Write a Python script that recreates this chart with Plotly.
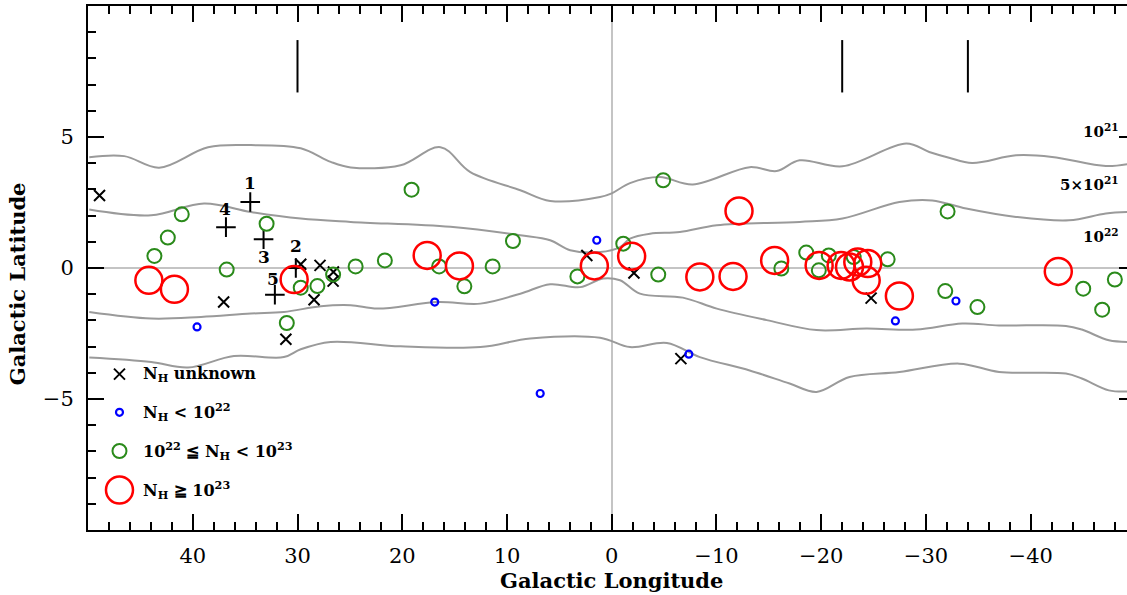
import plotly.graph_objects as go

# ---------------- data ----------------
unknown_lon = [48.9, 37.05, 29.69, 27.85, 26.57, 26.6, 28.42, 31.11, 2.38, -2.12, -6.6, -24.76]
unknown_lat = [2.77, -1.30, 0.14, 0.10, -0.15, -0.50, -1.21, -2.72, 0.48, -0.19, -3.46, -1.15]

plus_lon = [34.51, 30.16, 33.24, 36.83, 32.16]
plus_lat = [2.52, 0.0, 1.10, 1.56, -1.02]
plus_labels = ["1", "2", "3", "4", "5"]
plus_label_dy = [19, 22, -18, 18, 16]   # pixel offsets of the number labels
plus_label_dx = [0, 0, 0, -1, -2]

blue_lon = [39.59, 16.9, 6.83, 1.43, -7.36, -27.08, -32.86]
blue_lat = [-2.25, -1.30, -4.79, 1.06, -3.29, -2.02, -1.26]

green_lon = [41.05, 42.38, 43.66, 36.76, 32.95, 31.02, 29.69, 28.1, 26.6, 24.45,
             21.66, 19.11, 16.48, 14.07, 11.37, 9.43, 3.28, -1.1, -4.44, -4.91,
             -16.19, -18.57, -19.77, -20.72, -23.1, -26.34, -31.84, -32.06, -34.91,
             -45.01, -46.82, -48.03]
green_lat = [2.05, 1.16, 0.46, -0.06, 1.69, -2.10, -0.75, -0.69, -0.25, 0.06,
             0.29, 2.99, 0.06, -0.70, 0.06, 1.03, -0.32, 0.93, -0.25, 3.35,
             -0.02, 0.59, -0.09, 0.48, 0.42, 0.33, -0.88, 2.16, -1.49,
             -0.79, -1.59, -0.44]

red_lon = [44.19, 41.75, 30.32, 17.62, 14.54, 1.66, -1.9, -12.15, -8.41, -11.58,
           -15.55, -19.8, -21.9, -22.7, -23.49, -24.44, -24.29, -27.46, -42.63]
red_lat = [-0.47, -0.81, -0.44, 0.48, 0.08, 0.08, 0.45, 2.18, -0.34, -0.32,
           0.29, 0.10, 0.10, 0.04, 0.23, 0.17, -0.47, -1.07, -0.13]

# column-density contours
c1_lon = [49.88, 46.54, 43.21, 38.54, 34.45, 29.69, 26.83, 24.92, 20.16, 16.35, 13.50, 8.73,
          5.88, 1.11, 0.0, -1.74, -4.59, -7.74, -13.17, -15.74, -17.93, -22.03, -28.12,
          -30.31, -32.2, -34.41, -38.6, -42.03, -47.17, -49.5]
c1_lat = [4.23, 4.27, 3.83, 4.61, 4.69, 4.57, 4.05, 3.84, 3.92, 4.61, 3.66, 2.97,
          2.56, 2.71, 2.85, 3.24, 3.47, 3.19, 3.85, 3.70, 4.11, 3.88, 4.75,
          4.43, 4.21, 4.01, 4.30, 4.24, 3.89, 3.98]

c2_lon = [49.88, 43.97, 38.92, 34.45, 29.69, 24.92, 15.4, 8.73, 5.88, 3.97, 1.11, -0.79,
          -1.74, -3.65, -6.5, -10.03, -17.93, -22.03, -27.46, -30.6, -33.84, -38.6,
          -43.65, -47.17, -49.5]
c2_lat = [2.23, 2.01, 2.46, 2.14, 1.89, 1.76, 1.57, 1.25, 1.06, 0.68, 0.61, 0.80,
          1.12, 1.31, 1.37, 1.63, 1.76, 1.89, 2.52, 2.58, 2.27, 1.95,
          1.82, 2.08, 2.14]

c3_lon = [49.88, 43.97, 39.21, 34.45, 31.3, 27.78, 24.92, 22.35, 16.64, 12.54, 8.73, 5.88,
          3.02, 0.83, -0.79, -2.69, -6.79, -10.03, -14.79, -19.55, -24.31, -29.08,
          -33.46, -36.98, -43.36, -44.88, -47.46, -49.5]
c3_lat = [-1.68, -1.93, -1.87, -1.74, -1.68, -1.46, -1.42, -1.55, -1.30, -1.36, -0.98, -0.62,
          -0.73, -0.40, -0.47, -0.98, -1.13, -1.55, -1.99, -2.37, -2.31, -2.35,
          -2.12, -2.19, -2.21, -2.35, -2.76, -2.82]

c4_lon = [49.88, 43.97, 40.45, 36.07, 31.3, 29.69, 26.83, 20.16, 12.54, 7.78, 1.11, -1.74,
          -5.27, -8.41, -13.17, -16.98, -19.55, -22.7, -27.46, -33.17, -36.98, -43.36,
          -44.88, -47.46, -49.5]
c4_lat = [-3.42, -3.59, -3.80, -3.36, -3.40, -3.10, -2.82, -2.99, -3.02, -2.69, -2.66, -3.02,
          -2.86, -3.40, -3.91, -4.41, -4.73, -4.16, -3.97, -3.65, -3.97, -4.03,
          -4.22, -4.67, -4.71]

contour_labels = ["10<sup>21</sup>", "5×10<sup>21</sup>", "10<sup>22</sup>"]
contour_label_lat = [5.22, 3.20, 1.21]

seg_lon = [30, -22, -34]
seg_lat_lo = 6.7
seg_lat_hi = 8.7

x_major = [40, 30, 20, 10, 0, -10, -20, -30, -40]
x_minor = [v for v in range(-48, 50, 2) if v % 10 != 0]
y_major = [-5, 0, 5]
y_minor = [v for v in range(-9, 10) if v % 5 != 0]

legend_labels = ["N<sub>H</sub> unknown",
                 "N<sub>H</sub> < 10<sup>22</sup>",
                 "10<sup>22</sup> ≦ N<sub>H</sub> < 10<sup>23</sup>",
                 "N<sub>H</sub> ≧ 10<sup>23</sup>"]

# ---------------- styles ----------------
FONT = "DejaVu Serif"
GRAY = "#9a9a9a"
GREEN = "#2a8a1a"
RED = "#ff0000"
BLUE = "#0000ff"

fig = go.Figure()

for lo, la in [(c1_lon, c1_lat), (c2_lon, c2_lat), (c3_lon, c3_lat), (c4_lon, c4_lat)]:
    fig.add_trace(go.Scatter(x=lo, y=la, mode="lines",
                             line=dict(color=GRAY, width=2, shape="spline", smoothing=1.0),
                             hoverinfo="skip", showlegend=False))

# top marker segments (on y2 which mirrors y)
sx, sy = [], []
for v in seg_lon:
    sx += [v, v, None]
    sy += [seg_lat_lo, seg_lat_hi, None]
fig.add_trace(go.Scatter(x=sx, y=sy, mode="lines", yaxis="y2",
                         line=dict(color="black", width=2),
                         hoverinfo="skip", showlegend=False))

fig.add_trace(go.Scatter(x=unknown_lon, y=unknown_lat, mode="markers",
                         marker=dict(symbol="x-thin-open", size=11, color="black",
                                     line=dict(color="black", width=2)),
                         showlegend=False))
fig.add_trace(go.Scatter(x=plus_lon, y=plus_lat, mode="markers",
                         marker=dict(symbol="cross-thin-open", size=14, color="black",
                                     line=dict(color="black", width=2)),
                         showlegend=False))
fig.add_trace(go.Scatter(x=blue_lon, y=blue_lat, mode="markers",
                         marker=dict(symbol="circle-open", size=7, color=BLUE,
                                     line=dict(color=BLUE, width=2.2)),
                         showlegend=False))
fig.add_trace(go.Scatter(x=green_lon, y=green_lat, mode="markers",
                         marker=dict(symbol="circle-open", size=14, color=GREEN,
                                     line=dict(color=GREEN, width=2)),
                         showlegend=False))
fig.add_trace(go.Scatter(x=red_lon, y=red_lat, mode="markers",
                         marker=dict(symbol="circle-open", size=27, color=RED,
                                     line=dict(color=RED, width=2.5)),
                         showlegend=False))

# legend keys in an overlay frame (0..1)
leg_x = 0.0303
leg_y = [0.2975, 0.2245, 0.1507, 0.0763]
leg_sym = ["x-thin-open", "circle-open", "circle-open", "circle-open"]
leg_size = [11, 7, 14, 27]
leg_col = ["black", BLUE, GREEN, RED]
leg_w = [2, 2.2, 2, 2.5]
for i in range(4):
    fig.add_trace(go.Scatter(x=[leg_x], y=[leg_y[i]], mode="markers", xaxis="x2", yaxis="y3",
                             marker=dict(symbol=leg_sym[i], size=leg_size[i], color=leg_col[i],
                                         line=dict(color=leg_col[i], width=leg_w[i])),
                             hoverinfo="skip", showlegend=False))

annotations = []
for i in range(4):
    annotations.append(dict(text="<b>" + legend_labels[i] + "</b>", xref="paper", yref="paper",
                            x=0.0514, y=leg_y[i], xanchor="left", yanchor="middle",
                            showarrow=False, font=dict(family=FONT, size=16, color="black")))
for i, t in enumerate(plus_labels):
    annotations.append(dict(text="<b>" + t + "</b>", x=plus_lon[i], y=plus_lat[i], xref="x", yref="y",
                            showarrow=False, xshift=plus_label_dx[i], yshift=plus_label_dy[i],
                            font=dict(family=FONT, size=17, color="black")))
for t, la in zip(contour_labels, contour_label_lat):
    annotations.append(dict(text="<b>" + t + "</b>", x=-48.62, y=la, xref="x", yref="y", xanchor="right",
                            yanchor="middle", showarrow=False,
                            font=dict(family=FONT, size=15, color="black")))
annotations.append(dict(text="<b>Galactic Longitude</b>", xref="x", yref="paper", x=0, y=-0.0973,
                        xanchor="center", yanchor="middle", showarrow=False,
                        font=dict(family=FONT, size=21, color="black")))
annotations.append(dict(text="<b>Galactic Latitude</b>", xref="paper", yref="paper", x=-0.0683, y=0.469,
                        xanchor="center", yanchor="middle", textangle=-90, showarrow=False,
                        font=dict(family=FONT, size=21, color="black")))

fig.update_layout(
    width=1127, height=595,
    margin=dict(l=88, r=0, t=6, b=65),
    paper_bgcolor="white", plot_bgcolor="white",
    showlegend=False,
    annotations=annotations,
    xaxis=dict(range=[50, -49.19], tickmode="array", tickvals=x_major,
               ticks="inside", ticklen=16, tickwidth=2, tickcolor="black",
               showline=True, linewidth=2, linecolor="black", mirror="ticks",
               showgrid=False, zeroline=True, zerolinecolor="#c4c4c4", zerolinewidth=2,
               tickfont=dict(family=FONT, size=21, color="black"), ticklabelstandoff=6,
               minor=dict(tickmode="array", tickvals=x_minor, ticks="inside", ticklen=8,
                          tickwidth=2, tickcolor="black", showgrid=False)),
    yaxis=dict(range=[-10, 10], tickmode="array", tickvals=y_major,
               ticks="inside", ticklen=16, tickwidth=2, tickcolor="black",
               showline=True, linewidth=2, linecolor="black", mirror=False,
               showgrid=False, zeroline=True, zerolinecolor="#c4c4c4", zerolinewidth=2,
               tickfont=dict(family=FONT, size=21, color="black"), ticklabelstandoff=8,
               minor=dict(tickmode="array", tickvals=y_minor, ticks="inside", ticklen=8,
                          tickwidth=2, tickcolor="black", showgrid=False)),
    yaxis2=dict(range=[-10, 10], overlaying="y", side="right", tickmode="array",
                tickvals=y_major, ticks="inside", ticklen=8, tickwidth=2, tickcolor="black",
                showticklabels=False, showline=False, showgrid=False, zeroline=False),
    xaxis2=dict(range=[0, 1], overlaying="x", visible=False),
    yaxis3=dict(range=[0, 1], overlaying="y", visible=False),
)

fig.write_html("out.html")
